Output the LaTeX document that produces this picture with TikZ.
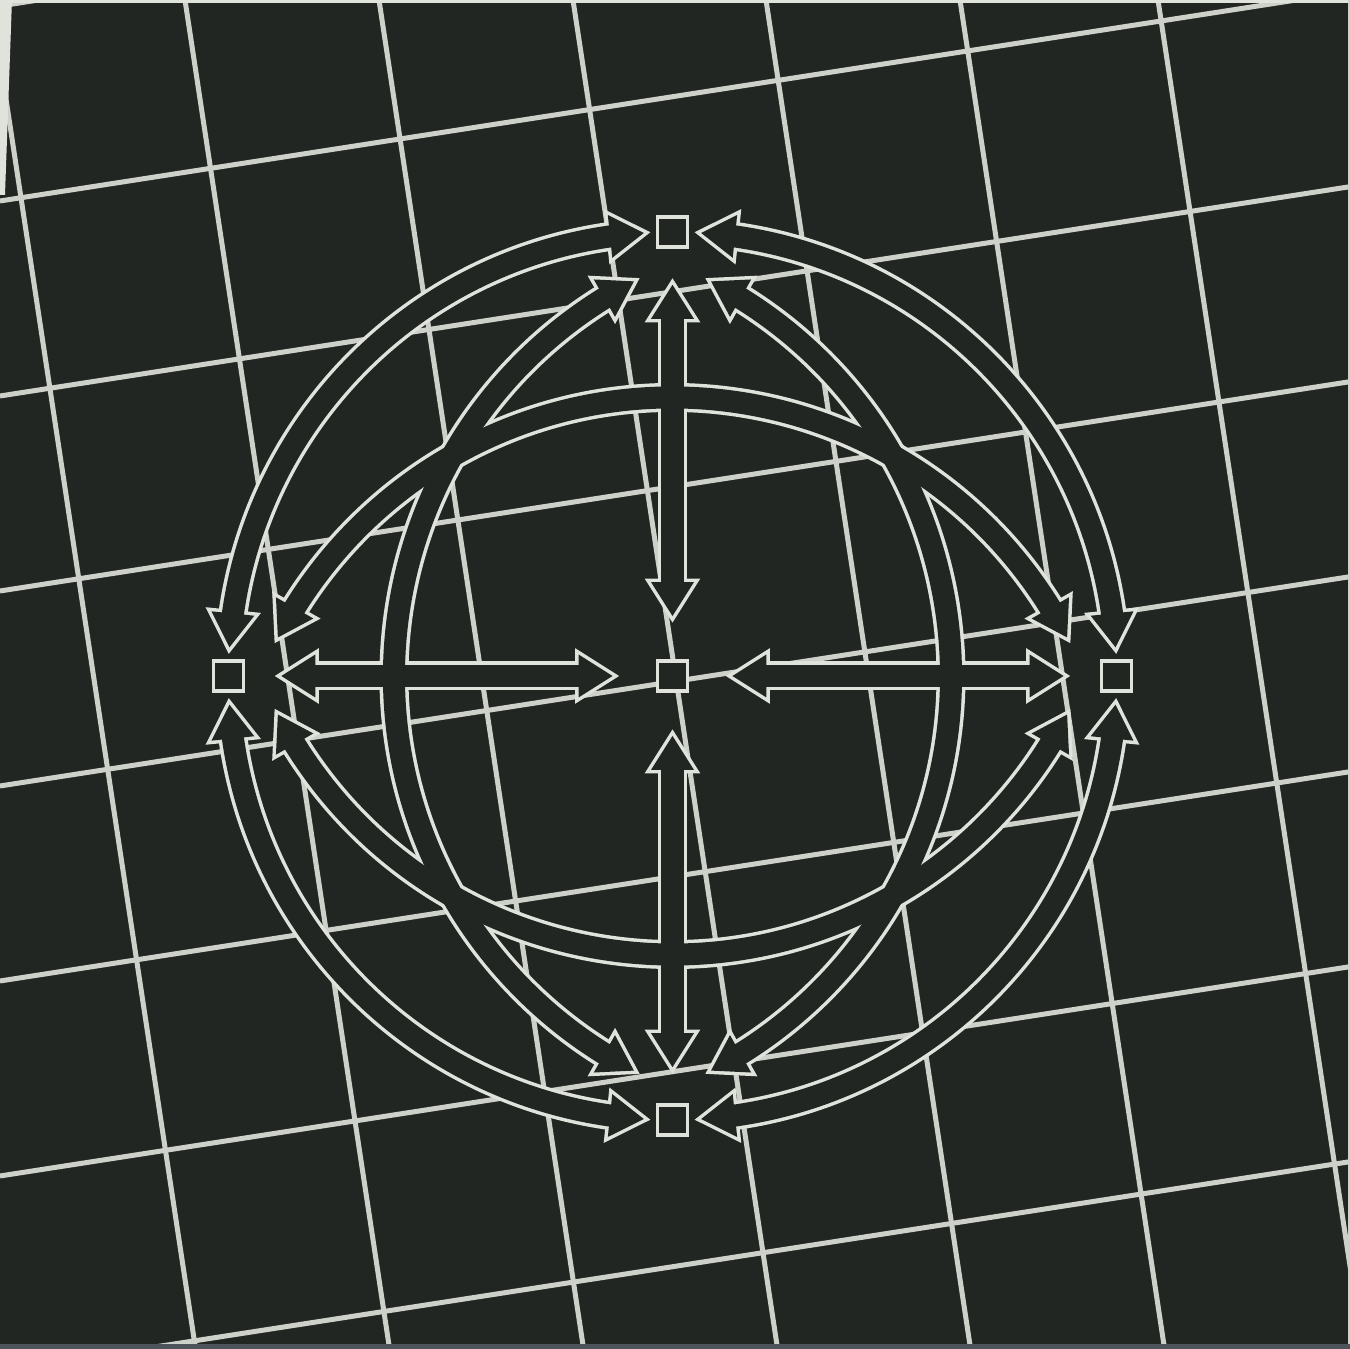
\documentclass[tikz,border=0pt]{standalone}
\usetikzlibrary{calc}
\definecolor{bg}{HTML}{212623}
\definecolor{fg}{HTML}{DFE3DC}
\definecolor{gridc}{HTML}{CDD1C9}
\definecolor{edgec}{HTML}{4E545B}
\newcommand\ahw{0.215cm}
\newcommand\headtri[2]{\path[fhead] ($(#1)!\ahw!90:(#2)$) -- (#2) -- ($(#1)!\ahw!-90:(#2)$) -- cycle;}
\newcommand\arcarrow[4]{%
  \pgfmathsetmacro\xdA{34/(#2)*180/pi}%
  \pgfmathsetmacro\xsg{((#4)>(#3))?1:-1}%
  \pgfmathsetmacro\xbA{(#3)+\xsg*\xdA}%
  \pgfmathsetmacro\xbB{(#4)-\xsg*\xdA}%
  \pgfmathsetmacro\xsA{\xbA-\xsg*0.5}%
  \pgfmathsetmacro\xsB{\xbB+\xsg*0.5}%
  \coordinate (aa) at ($#1+(#3:#2)$);
  \coordinate (ab) at ($#1+(#4:#2)$);
  \coordinate (ba) at ($#1+(\xbA:#2)$);
  \coordinate (bb) at ($#1+(\xbB:#2)$);
  \draw[fshaft] ($#1+(\xsA:#2)$) arc[start angle=\xsA, end angle=\xsB, radius=#2];
  \headtri{ba}{aa}\headtri{bb}{ab}}
\newcommand\strarrow[2]{%
  \coordinate (sa) at #1; \coordinate (sb) at #2;
  \coordinate (ha) at ($(sa)!0.34cm!(sb)$);
  \coordinate (hb) at ($(sb)!0.34cm!(sa)$);
  \draw[fshaft] ($(sa)!0.30cm!(sb)$) -- ($(sb)!0.30cm!(sa)$);
  \headtri{ha}{sa}\headtri{hb}{sb}}
\newcommand\allshapes{%
  % outer ring
  \arcarrow{(C)}{444}{3.7}{86.3}
  \arcarrow{(C)}{444}{93.7}{176.3}
  \arcarrow{(C)}{444}{183.7}{266.3}
  \arcarrow{(C)}{444}{273.7}{356.3}
  % meridians
  \arcarrow{(166,0)}{444.5}{117.4}{242.6}
  \arcarrow{(-166,0)}{444.5}{62.6}{-62.6}
  % latitudes
  \arcarrow{(0,-166)}{444.5}{27.4}{152.6}
  \arcarrow{(0,166)}{444.5}{207.4}{332.6}
  % cross
  \strarrow{($(C)!0.135!(T)$)}{($(C)!0.881!(T)$)}
  \strarrow{($(C)!0.135!(B)$)}{($(C)!0.881!(B)$)}
  \strarrow{($(C)!0.135!(L)$)}{($(C)!0.881!(L)$)}
  \strarrow{($(C)!0.135!(R)$)}{($(C)!0.881!(R)$)}}
\begin{document}
\begin{tikzpicture}[x=0.01cm,y=0.01cm,
  gridline/.style={draw=gridc,line width=0.05cm},
  sq/.style={draw=fg,fill=bg,line width=0.035cm,minimum size=0.30cm,inner sep=0pt,outer sep=0pt,rectangle},
  passone/.style={fshaft/.style={draw=fg,line width=0.29cm},fhead/.style={fill=fg,draw=fg,line width=0.07cm,line join=miter}},
  passtwo/.style={fshaft/.style={draw=bg,line width=0.22cm},fhead/.style={fill=bg}}]
\useasboundingbox (-672.5,-673) rectangle (677.5,676);
\fill[bg] (-672.5,-673) rectangle (677.5,676);
% background grid
\begin{scope}
  \clip (-672.5,-673) rectangle (677.5,676);
  \foreach \a in {-9,185,379,573,766,960,1158}{\draw[gridline] (\a-672.5,676) -- (\a-467.9,-673);}
  \foreach \b in {6,201,396,591,786,981,1176,1371}{\draw[gridline] (-672.5,676-\b) -- (677.5,885.3-\b);}
\end{scope}
% nodes
\node[sq] (C) at (0,0) {};
\node[sq] (T) at (0,444) {};
\node[sq] (B) at (0,-444) {};
\node[sq] (L) at (-444,0) {};
\node[sq] (R) at (444,0) {};
% fat outlined arrows: light pass, then dark pass (gives merged outlines)
\begin{scope}[passone]\allshapes\end{scope}
\begin{scope}[passtwo]\allshapes\end{scope}
% scan edges
\fill[fg] (-672.5,676) rectangle (677.5,672.5);
\fill[fg] (-672.5,676) -- (-660.5,676) -- (-667.5,481) -- (-672.5,481) -- cycle;
\fill[gridc] (675.5,-673) rectangle (677.5,676);
\fill[edgec] (-672.5,-673) rectangle (677.5,-668.5);
\end{tikzpicture}
\end{document}
